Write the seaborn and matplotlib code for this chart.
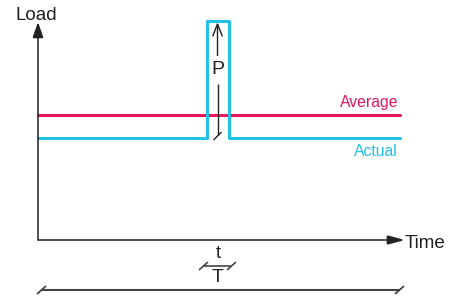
import matplotlib
matplotlib.use("Agg")
import matplotlib.pyplot as plt
import seaborn as sns
import pandas as pd
from matplotlib.patches import FancyArrowPatch

# ---- data (time in % of period, load in units of the base load) ----
time_actual = [0, 46.7, 46.7, 52.8, 52.8, 100]
load_actual = [1.0, 1.0, 2.15, 2.15, 1.0, 1.0]
time_average = [0, 100]
load_average = [1.225, 1.225]
labels = {"avg": "Average", "act": "Actual", "x": "Time", "y": "Load",
          "peak": "P", "pulse": "t", "period": "T"}

RED = "#e8175d"
CYAN = "#22c1e6"
DARK = "#222222"
GREY = "#444444"

sns.set_theme(style="white")
plt.rcParams['font.family'] = ['Liberation Sans', 'DejaVu Sans']

fig = plt.figure(figsize=(4.65, 2.99), dpi=100)
ax = fig.add_axes([0, 0, 1, 1])

# pixel-to-data helper for layout (x axis origin at px 38, 3.62 px/unit; y origin at px 240, 102 px/unit)
X0, SX, Y0, SY = 38, 3.62, 240, 102.0
def P(px, py):
    return ((px - X0) / SX, (Y0 - py) / SY)

ax.set_xlim(P(0, 0)[0], P(465, 0)[0])
ax.set_ylim(P(0, 299)[1], P(0, 0)[1])
ax.axis("off")

df_act = pd.DataFrame({"time": time_actual, "load": load_actual})
df_avg = pd.DataFrame({"time": time_average, "load": load_average})
sns.lineplot(data=df_avg, x="time", y="load", ax=ax, color=RED, lw=2.2,
             estimator=None, sort=False, zorder=3)
sns.lineplot(data=df_act, x="time", y="load", ax=ax, color=CYAN, lw=2.2,
             estimator=None, sort=False, zorder=4)

def arrow(p0, p1, style, color=DARK, lw=1.1):
    a = FancyArrowPatch(P(*p0), P(*p1), arrowstyle=style, color=color, lw=lw,
                        mutation_scale=1, shrinkA=0, shrinkB=0, zorder=5,
                        joinstyle="miter", capstyle="butt")
    ax.add_patch(a)

def seg(p0, p1, color=DARK, lw=1.1):
    (x0, y0), (x1, y1) = P(*p0), P(*p1)
    ax.plot([x0, x1], [y0, y1], color=color, lw=lw, solid_capstyle="butt", zorder=5)

# axes with arrows
arrow((38, 240.5), (38, 22), "-|>,head_length=9.5,head_width=3.3")
arrow((37.5, 240), (405, 240), "-|>,head_length=10.5,head_width=2.8")
ax.text(*P(405, 243), labels["x"], fontsize=13.5, color=DARK, ha="left", va="center")
ax.text(*P(36, 15), labels["y"], fontsize=13.5, color=DARK, ha="center", va="center")

# series labels
ax.text(*P(398, 102), labels["avg"], fontsize=11.3, color=RED, ha="right", va="center")
ax.text(*P(398, 152), labels["act"], fontsize=11.3, color=CYAN, ha="right", va="center")

# peak dimension P
arrow((217.5, 56), (217.5, 22), "->,head_length=9,head_width=3.5", lw=1.0)
seg((217.5, 84), (217.5, 135), lw=1.0)
seg((213.5, 140), (221.5, 132), lw=1.0)
ax.text(*P(217.5, 69), labels["peak"], fontsize=14, color=DARK, ha="center", va="center")

# pulse width t
seg((204, 265.5), (231, 265.5), color=GREY, lw=1.2)
seg((199, 270), (208, 262), color=GREY, lw=1.2)
seg((227, 270), (236, 262), color=GREY, lw=1.2)
ax.text(*P(218, 254), labels["pulse"], fontsize=13, color=DARK, ha="center", va="center")
ax.text(*P(218, 278), labels["period"], fontsize=14, color=DARK, ha="center", va="center")

# period T
seg((41, 290), (400, 290), color=GREY, lw=1.5)
seg((37, 294), (46, 286), color=GREY, lw=1.3)
seg((395, 294), (404, 286), color=GREY, lw=1.3)

fig.savefig("out.png", dpi=100)
